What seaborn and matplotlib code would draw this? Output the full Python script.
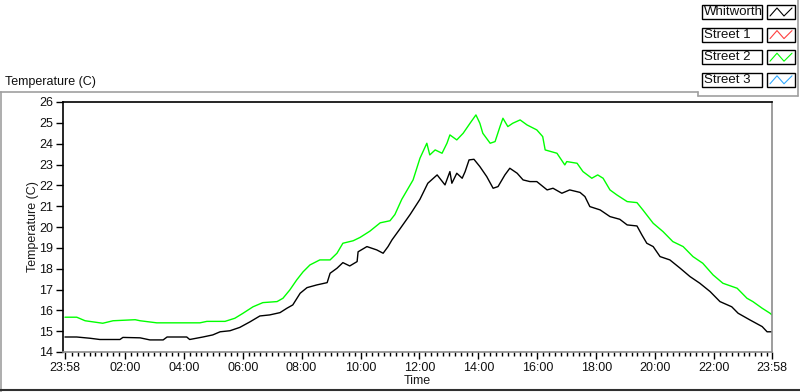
import pandas as pd
import numpy as np
import matplotlib
matplotlib.use("Agg")
import matplotlib.pyplot as plt
from matplotlib.lines import Line2D
from matplotlib.patches import Rectangle
import seaborn as sns

# -----------------------> Data ----------------------------------------------------------

whit_time = ["23:58", "00:22", "00:49", "01:09", "01:50", "01:56", "02:31", "02:51", "03:18", "03:26",
             "04:06", "04:12", "04:39", "04:59", "05:14", "05:34", "05:54", "06:15", "06:35", "06:55",
             "07:16", "07:30", "07:42", "07:57", "08:11", "08:31", "08:52", "08:58", "09:12", "09:24",
             "09:38", "09:53", "09:55", "10:13", "10:33", "10:46", "10:56", "11:04", "11:20", "11:41",
             "12:01", "12:17", "12:36", "12:52", "13:02", "13:06", "13:16", "13:27", "13:33", "13:41",
             "13:51", "14:03", "14:17", "14:30", "14:40", "14:54", "15:04", "15:19", "15:31", "15:45",
             "15:59", "16:20", "16:32", "16:50", "17:06", "17:27", "17:37", "17:47", "18:08", "18:28",
             "18:48", "19:03", "19:23", "19:33", "19:43", "19:56", "20:10", "20:30", "20:51", "21:11",
             "21:31", "21:52", "22:12", "22:36", "22:49", "23:13", "23:38", "23:48", "23:58"]
whit_temp = [14.72, 14.72, 14.66, 14.60, 14.60, 14.70, 14.68, 14.58, 14.58, 14.72,
             14.72, 14.60, 14.72, 14.82, 14.97, 15.02, 15.18, 15.45, 15.73, 15.78,
             15.89, 16.10, 16.26, 16.82, 17.09, 17.22, 17.33, 17.78, 18.02, 18.29,
             18.13, 18.34, 18.81, 19.06, 18.90, 18.74, 19.06, 19.38, 19.90, 20.60,
             21.33, 22.10, 22.50, 22.02, 22.66, 22.10, 22.58, 22.34, 22.66, 23.22,
             23.25, 22.90, 22.42, 21.86, 21.94, 22.50, 22.82, 22.58, 22.26, 22.18,
             22.18, 21.78, 21.86, 21.62, 21.78, 21.66, 21.46, 20.98, 20.82, 20.50,
             20.37, 20.10, 20.05, 19.62, 19.22, 19.06, 18.58, 18.42, 18.02, 17.62,
             17.30, 16.90, 16.42, 16.17, 15.86, 15.54, 15.22, 14.97, 14.97]

st2_time = ["23:58", "00:22", "00:39", "01:15", "01:36", "02:21", "02:31", "03:05", "04:33", "04:47",
            "05:24", "05:44", "06:00", "06:21", "06:41", "07:10", "07:22", "07:36", "07:50", "08:03",
            "08:17", "08:37", "08:58", "09:12", "09:24", "09:45", "09:59", "10:19", "10:40", "11:00",
            "11:10", "11:24", "11:47", "12:01", "12:15", "12:21", "12:32", "12:46", "12:56", "13:02",
            "13:16", "13:29", "13:43", "13:55", "14:03", "14:09", "14:24", "14:34", "14:44", "14:50",
            "15:00", "15:10", "15:25", "15:39", "15:59", "16:11", "16:16", "16:40", "16:56", "17:00",
            "17:21", "17:33", "17:51", "18:03", "18:14", "18:28", "18:42", "19:03", "19:23", "19:35",
            "19:56", "20:16", "20:36", "20:57", "21:17", "21:37", "21:58", "22:18", "22:47", "23:07",
            "23:19", "23:38", "23:54", "23:58"]
st2_temp = [15.67, 15.67, 15.50, 15.38, 15.50, 15.55, 15.50, 15.40, 15.40, 15.47,
            15.47, 15.62, 15.85, 16.17, 16.37, 16.42, 16.58, 16.98, 17.46, 17.85,
            18.18, 18.42, 18.42, 18.74, 19.22, 19.34, 19.50, 19.80, 20.20, 20.30,
            20.60, 21.33, 22.26, 23.30, 24.02, 23.46, 23.70, 23.54, 24.02, 24.42,
            24.18, 24.50, 24.98, 25.38, 24.98, 24.50, 24.02, 24.10, 24.82, 25.22,
            24.82, 24.98, 25.14, 24.90, 24.66, 24.34, 23.70, 23.54, 22.98, 23.14,
            23.06, 22.66, 22.34, 22.50, 22.34, 21.78, 21.54, 21.22, 21.17, 20.82,
            20.18, 19.78, 19.30, 19.06, 18.58, 18.26, 17.70, 17.30, 17.06, 16.58,
            16.42, 16.10, 15.86, 15.78]

legend_names = ["Whitworth", "Street 1", "Street 2", "Street 3"]
legend_colors = ["#000000", "#ff4040", "#00ff00", "#33aaff"]

y_ticks = list(range(14, 27))
x_labels = ["23:58", "02:00", "04:00", "06:00", "08:00", "10:00", "12:00",
            "14:00", "16:00", "18:00", "20:00", "22:00", "23:58"]


def to_dt(times):
    # first sample is 23:58 of the day before, everything else is the next day
    return pd.to_datetime(["2000-01-01 " + times[0]] + ["2000-01-02 " + t for t in times[1:]])


whit = pd.DataFrame({"Time": to_dt(whit_time), "Temp": whit_temp})
st2 = pd.DataFrame({"Time": to_dt(st2_time), "Temp": st2_temp})

# -----------------------> Plot --------------------------------------------------------------

sns.set_style("white")
plt.rcParams["font.family"] = ["Liberation Sans", "DejaVu Sans"]
plt.rcParams["font.size"] = 9

W, H = 800, 392
fig = plt.figure(figsize=(8, 3.92), dpi=100)


def fx(px):
    return px / W


def fy(py):
    return 1 - py / H


ax = fig.add_axes([fx(63), fy(352), (772 - 63) / W, (352 - 102) / H])

sns.lineplot(data=whit, x="Time", y="Temp", color="#000000", lw=1.0, ax=ax)
sns.lineplot(data=st2, x="Time", y="Temp", color="#00ff00", lw=1.0, ax=ax)

start = pd.Timestamp("2000-01-01 23:58")
end = pd.Timestamp("2000-01-02 23:58")
ax.set_xlim(start - pd.Timedelta(minutes=4), end)
ax.set_ylim(14, 26)

# x ticks: ends at 23:58 plus every two hours
majors = [start] + [pd.Timestamp(f"2000-01-02 {h:02d}:00") for h in range(2, 24, 2)] + [end]
ax.set_xticks(majors)
ax.set_xticklabels(x_labels)
minors = pd.date_range("2000-01-02 00:00", "2000-01-02 23:48", freq="12min")
minors = [m for m in minors if m.minute != 0 or m.hour % 2 == 1]
ax.set_xticks(minors, minor=True)
ax.set_yticks(y_ticks)

ax.tick_params(axis="both", which="major", direction="out", length=5, width=1,
               color="black", labelsize=9, labelcolor="#101010", pad=2)
ax.tick_params(axis="x", which="minor", direction="out", length=3, width=1, color="black")
ax.tick_params(axis="x", which="both", bottom=True)
ax.tick_params(axis="y", which="both", left=True)

ax.set_xlabel("Time", fontsize=9, color="#1a1a1a", labelpad=1)
ax.set_ylabel("Temperature (C)", fontsize=9, color="#1a1a1a", labelpad=0)

ax.spines["top"].set_color("black")
ax.spines["left"].set_color("black")
ax.spines["bottom"].set_color("#8c8c8c")
ax.spines["right"].set_color("#8c8c8c")
for s in ax.spines.values():
    s.set_linewidth(1.2)
    s.set_visible(True)

# -----------------------> Panel frame and caption -------------------------------------------

frame = "#a0a0a0"
for xs, ys in [([0, 698], [92, 92]), ([698, 698], [92, 96]), ([698, 798], [96, 96]),
               ([798, 798], [0, 96]), ([0.5, 0.5], [92, 392])]:
    fig.add_artist(Line2D([fx(v) for v in xs], [fy(v) for v in ys], color=frame, lw=1.2,
                          transform=fig.transFigure))
fig.add_artist(Line2D([fx(0), fx(800)], [fy(390), fy(390)], color="#303030", lw=1.5,
                      transform=fig.transFigure))

fig.text(fx(5), fy(82), "Temperature (C)", fontsize=9, color="#101010", va="center", ha="left")

# -----------------------> Legend boxes ------------------------------------------------------

for i, (name, col) in enumerate(zip(legend_names, legend_colors)):
    top = 5 + i * 22.6
    h = 14
    fig.add_artist(Rectangle((fx(702), fy(top + h)), 60 / W, h / H, transform=fig.transFigure,
                             facecolor="white", edgecolor="black", lw=1))
    fig.add_artist(Rectangle((fx(767), fy(top + h)), 28 / W, h / H, transform=fig.transFigure,
                             facecolor="white", edgecolor="black", lw=1))
    fig.text(fx(703.5), fy(top + h / 2), name, fontsize=9.5, color="#101010", va="center", ha="left")
    zx = [770, 777, 784, 792]
    zy = [top + 11, top + 3, top + 11, top + 3]
    fig.add_artist(Line2D([fx(v) for v in zx], [fy(v) for v in zy], color=col, lw=0.8,
                          transform=fig.transFigure))

fig.savefig("out.png", dpi=100)
